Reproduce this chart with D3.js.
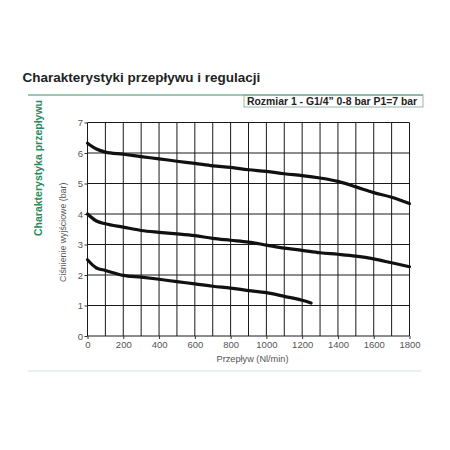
<!DOCTYPE html>
<html><head><meta charset="utf-8">
<script src="https://cdn.jsdelivr.net/npm/d3@7"></script>
<style>body{margin:0;background:#fff}svg{display:block}</style>
</head><body>
<svg id="c" width="450" height="450"></svg>
<script>
const title = "Charakterystyki przepływu i regulacji";
const boxLabel = "Rozmiar 1 - G1/4” 0-8 bar P1=7 bar";
const sideLabel = "Charakterystyka przepływu";
const yLabel = "Ciśnienie wyjściowe (bar)";
const xLabel = "Przepływ (Nl/min)";
const xTicks = [0,200,400,600,800,1000,1200,1400,1600,1800];
const yTicks = [0,1,2,3,4,5,6,7];
const curveHigh = [[0,6.32],[50,6.13],[100,6.03],[200,5.96],[300,5.88],[400,5.81],[500,5.73],[600,5.66],[700,5.58],[800,5.53],[900,5.45],[1000,5.40],[1100,5.32],[1200,5.26],[1300,5.18],[1400,5.07],[1500,4.89],[1600,4.70],[1700,4.55],[1800,4.34]];
const curveMid = [[0,4.0],[50,3.77],[100,3.68],[200,3.57],[300,3.46],[400,3.40],[500,3.35],[600,3.29],[700,3.20],[800,3.14],[900,3.08],[1000,2.98],[1100,2.88],[1200,2.81],[1300,2.73],[1400,2.68],[1500,2.62],[1600,2.53],[1700,2.40],[1800,2.27]];
const curveLow = [[0,2.5],[50,2.23],[100,2.15],[200,1.99],[300,1.93],[400,1.86],[500,1.78],[600,1.71],[700,1.63],[800,1.57],[900,1.49],[1000,1.42],[1100,1.30],[1200,1.17],[1250,1.08]];

const svg = d3.select("#c");
const font = "'Liberation Sans', Arial, sans-serif";
const x = d3.scaleLinear().domain([0,1800]).range([87.5,409.5]);
const y = d3.scaleLinear().domain([0,7]).range([336,122.5]);

// header
svg.append("text").attr("x",22.5).attr("y",81.5).attr("font-family",font).attr("font-weight","bold")
  .attr("font-size",13.5).attr("fill","#222").text(title);
svg.append("line").attr("x1",28).attr("x2",423).attr("y1",95).attr("y2",95).attr("stroke","#3f8f68").attr("stroke-width",1.2);
svg.append("rect").attr("x",244).attr("y",95).attr("width",179).attr("height",12).attr("fill","none").attr("stroke","#7aa592").attr("stroke-width",0.8);
svg.append("text").attr("x",247).attr("y",104.5).attr("font-family",font).attr("font-weight","bold")
  .attr("font-size",10.4).attr("fill","#222").text(boxLabel);

// side label
svg.append("text").attr("transform","translate(42,168) rotate(-90)").attr("text-anchor","middle")
  .attr("font-family",font).attr("font-weight","bold").attr("font-size",10.5).attr("fill","#2a8c5c").text(sideLabel);

// grid
const g = svg.append("g");
g.selectAll("line.v").data(d3.range(0,1801,100)).join("line")
  .attr("x1",d=>x(d)).attr("x2",d=>x(d)).attr("y1",y(0)).attr("y2",y(7))
  .attr("stroke","#1a1a1a").attr("stroke-width",1);
g.selectAll("line.h").data(yTicks).join("line").attr("class","h")
  .attr("x1",x(0)).attr("x2",x(1800)).attr("y1",d=>y(d)).attr("y2",d=>y(d))
  .attr("stroke","#1a1a1a").attr("stroke-width",1);

// axes
const fmt = d3.format("d");
const xa = svg.append("g").attr("transform",`translate(0,${y(0)})`)
  .call(d3.axisBottom(x).tickValues(xTicks).tickFormat(fmt).tickSize(3).tickPadding(2));
const ya = svg.append("g").attr("transform",`translate(${x(0)},0)`)
  .call(d3.axisLeft(y).tickValues(yTicks).tickFormat(fmt).tickSize(3).tickPadding(1.5));
[xa,ya].forEach(a=>{
  a.select(".domain").remove();
  a.selectAll("line").attr("stroke","#333");
  a.selectAll("text").attr("font-family",font).attr("font-size",9.5).attr("fill","#555");
});

svg.append("text").attr("x",(x(0)+x(1800))/2+4).attr("y",362).attr("text-anchor","middle")
  .attr("font-family",font).attr("font-size",9.2).attr("fill","#555").text(xLabel);
svg.append("text").attr("transform",`translate(66,${(y(0)+y(7))/2+3}) rotate(-90)`).attr("text-anchor","middle")
  .attr("font-family",font).attr("font-size",8.8).attr("fill","#555").text(yLabel);

// curves
const line = d3.line().x(d=>x(d[0])).y(d=>y(d[1])).curve(d3.curveMonotoneX);
svg.selectAll("path.curve").data([curveHigh,curveMid,curveLow]).join("path").attr("class","curve")
  .attr("d",line).attr("fill","none").attr("stroke","#111").attr("stroke-width",3.2).attr("stroke-linecap","round");

// bottom rule
svg.append("line").attr("x1",28).attr("x2",421).attr("y1",371).attr("y2",371).attr("stroke","#cfe5df").attr("stroke-width",1.2);
</script>
</body></html>
